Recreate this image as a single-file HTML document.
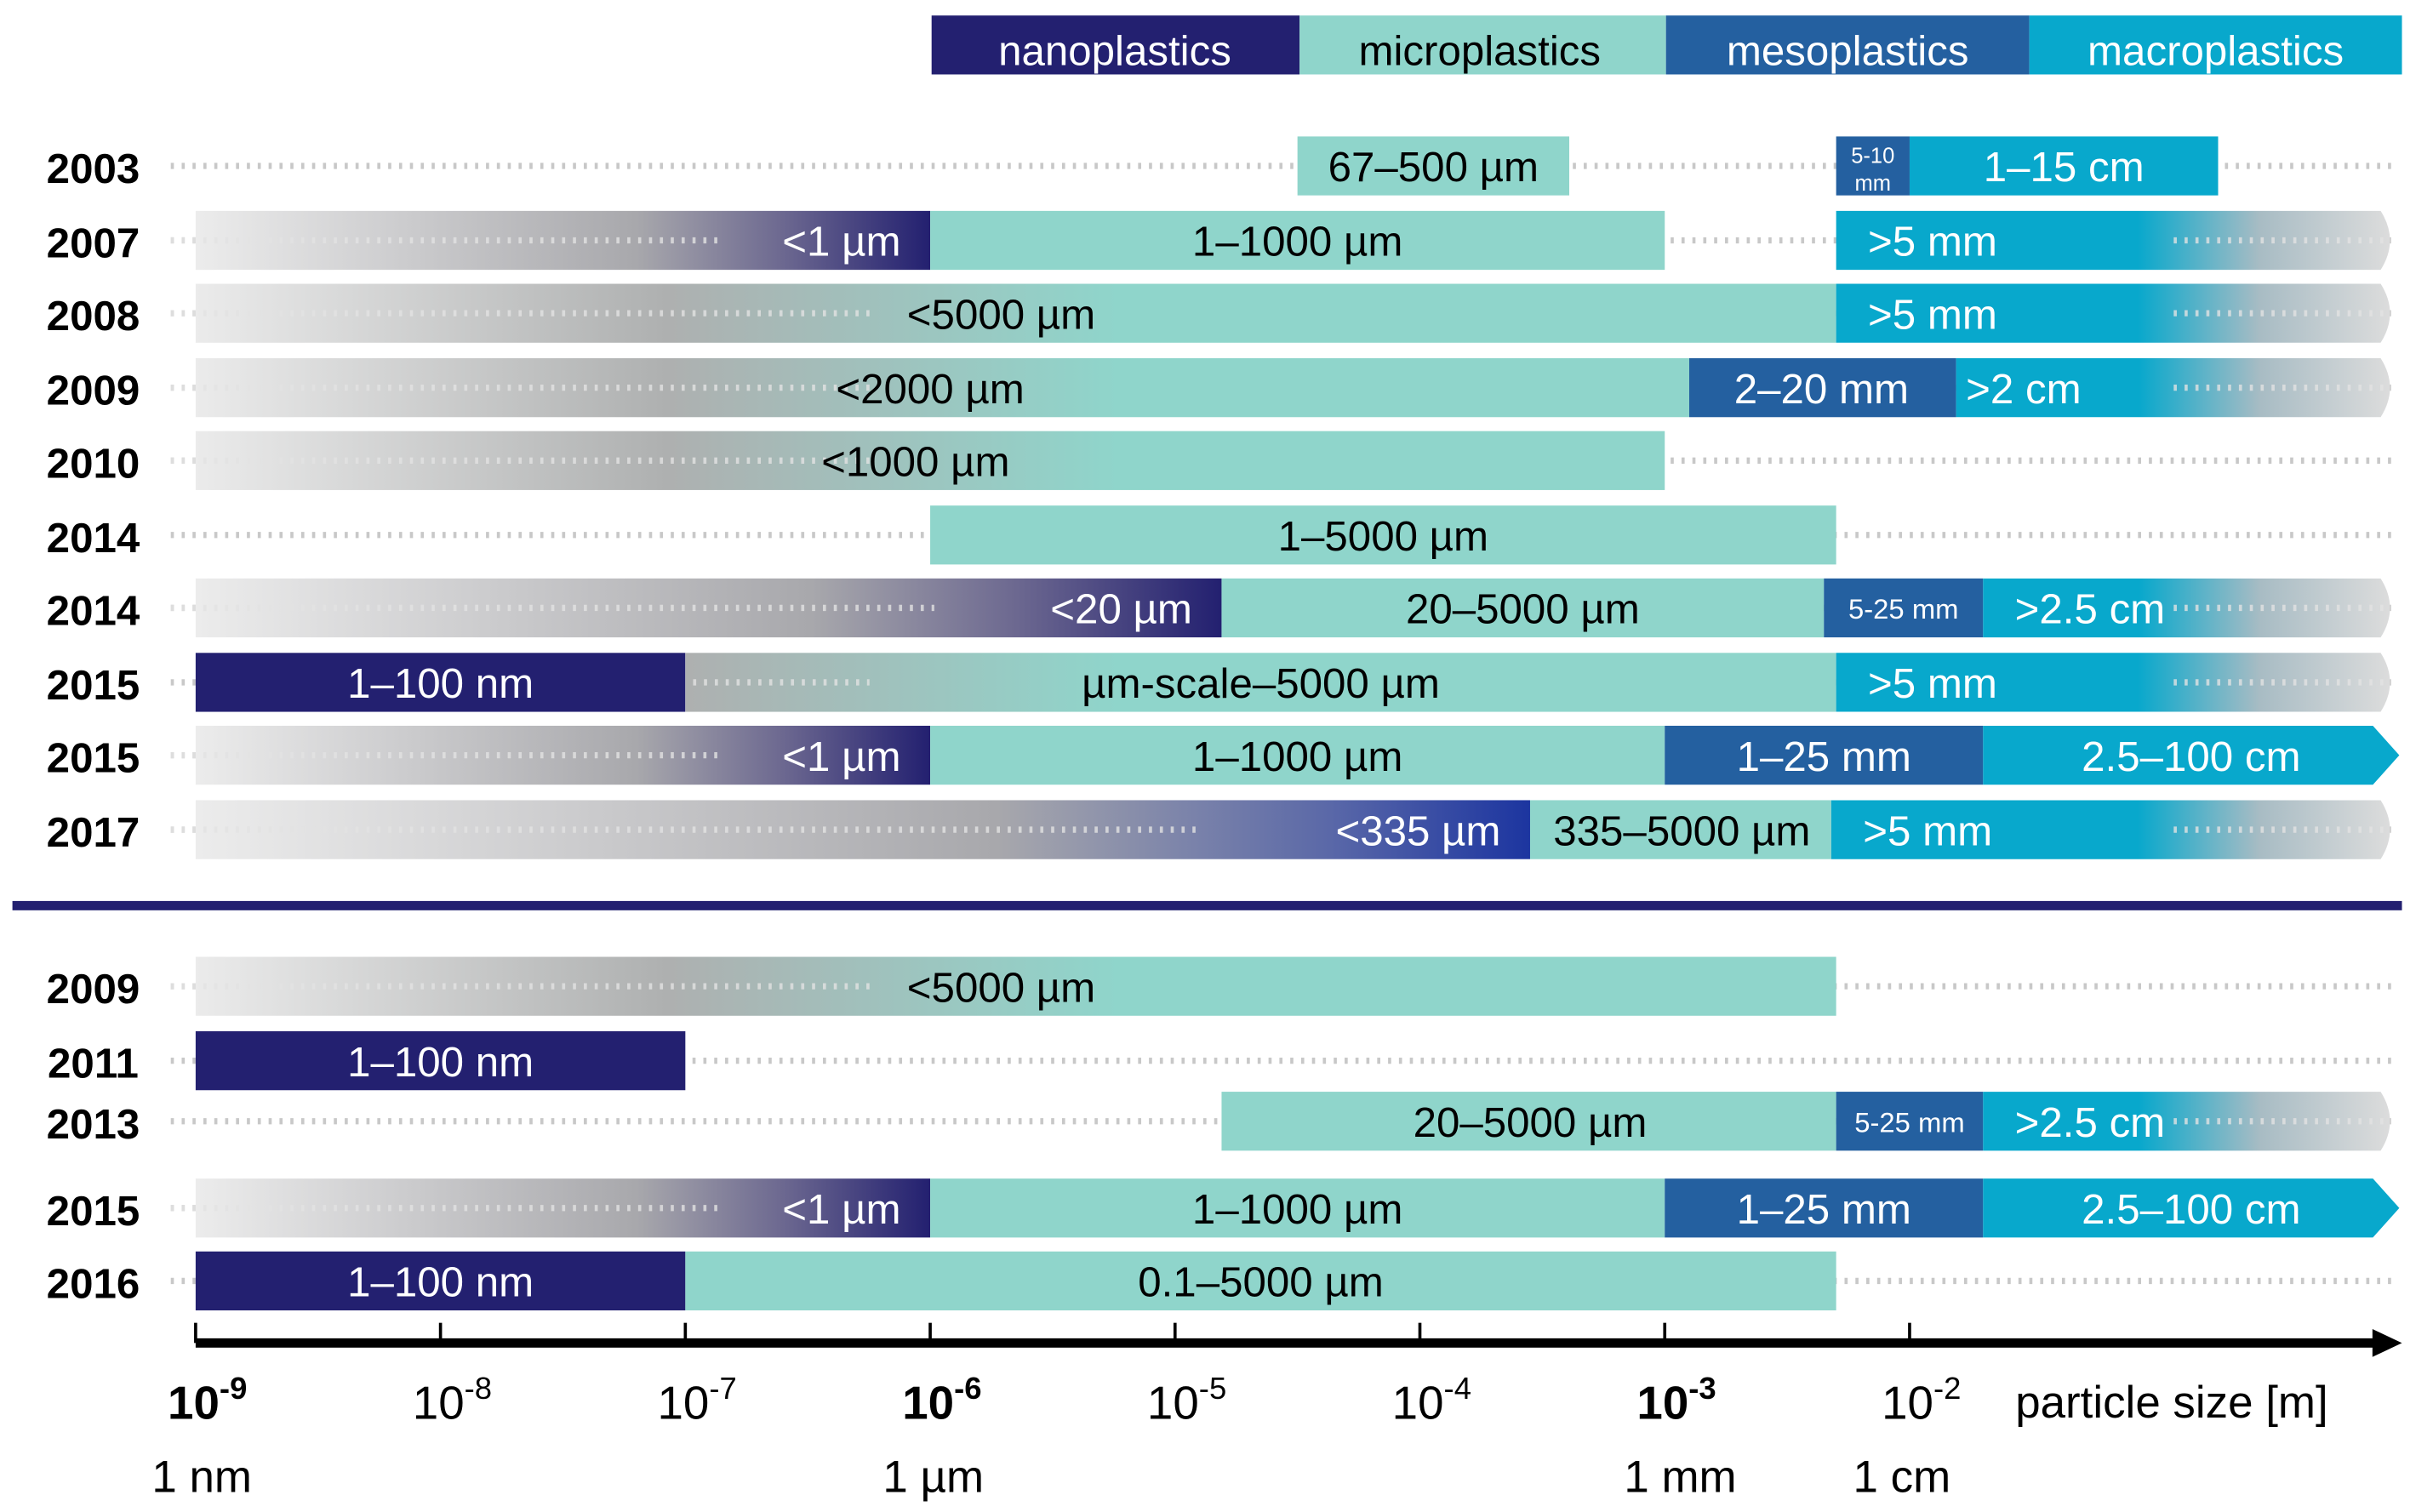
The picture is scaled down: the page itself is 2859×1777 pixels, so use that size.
<!DOCTYPE html>
<html><head><meta charset="utf-8"><style>
html,body{margin:0;padding:0;background:#fff;}
svg{display:block;font-family:"Liberation Sans",Arial,sans-serif;}
</style></head><body>
<svg id="chart" width="2859" height="1777" viewBox="0 0 1567 975" preserveAspectRatio="none" xmlns="http://www.w3.org/2000/svg">
<defs id="defs"></defs>
<g id="legend">
 <rect x="600" y="10" width="237" height="38" fill="#232070"/>
 <rect x="837" y="10" width="236" height="38" fill="#8fd5cb"/>
 <rect x="1073" y="10" width="234" height="38" fill="#2460a0"/>
 <rect x="1307" y="10" width="240" height="38" fill="#08a8cc"/>
 <text x="718" y="42" font-size="27" fill="#fff" text-anchor="middle">nanoplastics</text>
 <text x="953" y="42" font-size="27" fill="#000" text-anchor="middle">microplastics</text>
 <text x="1190" y="42" font-size="27" fill="#fff" text-anchor="middle">mesoplastics</text>
 <text x="1427" y="42" font-size="27" fill="#fff" text-anchor="middle">macroplastics</text>
</g>
<g id="rows"></g>
<rect x="8" y="581" width="1539" height="6" fill="#232070"/>
<g id="axis"></g>
</svg>
<script>
// data
const years = ["2003","2007","2008","2009","2010","2014","2014","2015","2015","2017","2009","2011","2013","2015","2016"];
const rowY = [107,155,202,250,297,345,392,440,487,535,636,684,723,779,826];
// segments per row: [type, fromExp, toExp, label, labelExp, anchor]
const segments = [
 [["micro",-4.50,-3.39,"67–500 µm",-3.945,"middle"],["meso",-2.30,-2.0,"",0,""],["macro",-2.0,-0.74,"1–15 cm",-1.37,"middle"]],
 [["nanoFade",-9,-6,"<1 µm",-6.12,"end"],["micro",-6,-3,"1–1000 µm",-4.5,"middle"],["macroFade",-2.30,0,">5 mm",-2.17,"start"]],
 [["microFade",-9,-2.30,"<5000 µm",-5.71,"middle"],["macroFade",-2.30,0,">5 mm",-2.17,"start"]],
 [["microFade",-9,-2.90,"<2000 µm",-6.0,"middle"],["meso",-2.90,-1.81,"2–20 mm",-2.36,"middle"],["macroFade",-1.81,0,">2 cm",-1.77,"start"]],
 [["microFade",-9,-3,"<1000 µm",-6.06,"middle"]],
 [["micro",-6,-2.30,"1–5000 µm",-4.15,"middle"]],
 [["nanoFade",-9,-4.81,"<20 µm",-4.93,"end"],["micro",-4.81,-2.35,"20–5000 µm",-3.58,"middle"],["meso",-2.35,-1.70,"",0,""],["macroFade",-1.70,0,">2.5 cm",-1.57,"start"]],
 [["nano",-9,-7,"1–100 nm",-8.0,"middle"],["microFade",-7,-2.30,"µm-scale–5000 µm",-4.65,"middle"],["macroFade",-2.30,0,">5 mm",-2.17,"start"]],
 [["nanoFade",-9,-6,"<1 µm",-6.12,"end"],["micro",-6,-3,"1–1000 µm",-4.5,"middle"],["meso",-3,-1.70,"1–25 mm",-2.35,"middle"],["macroArrow",-1.70,0,"2.5–100 cm",-0.85,"middle"]],
 [["nano2Fade",-9,-3.55,"<335 µm",-3.67,"end"],["micro",-3.55,-2.32,"335–5000 µm",-2.93,"middle"],["macroFade",-2.32,0,">5 mm",-2.19,"start"]],
 [["microFade",-9,-2.30,"<5000 µm",-5.71,"middle"]],
 [["nano",-9,-7,"1–100 nm",-8.0,"middle"]],
 [["micro",-4.81,-2.30,"20–5000 µm",-3.55,"middle"],["meso",-2.30,-1.70,"",0,""],["macroFade",-1.70,0,">2.5 cm",-1.57,"start"]],
 [["nanoFade",-9,-6,"<1 µm",-6.12,"end"],["micro",-6,-3,"1–1000 µm",-4.5,"middle"],["meso",-3,-1.70,"1–25 mm",-2.35,"middle"],["macroArrow",-1.70,0,"2.5–100 cm",-0.85,"middle"]],
 [["nano",-9,-7,"1–100 nm",-8.0,"middle"],["micro",-7,-2.30,"0.1–5000 µm",-4.65,"middle"]]
];
const tickExps = [-9,-8,-7,-6,-5,-4,-3,-2];
const tickBold = [true,false,false,true,false,false,true,false];
const unitLabels = ["1 nm","1 µm","1 mm","1 cm"];
const unitExps = [-9,-6,-3,-2];

const NS="http://www.w3.org/2000/svg";
const X0=126, DEC=157.7;
function xs(e){return X0+(e+9)*DEC;}
const H=38;
const col={nano:"#232070",micro:"#8fd5cb",meso:"#2460a0",macro:"#08a8cc",nano2:"#1c35a0"};
const defs=document.getElementById('defs');
let gid=0;
function grad(stops){
 const g=document.createElementNS(NS,'linearGradient');const id='g'+(gid++);
 g.setAttribute('id',id);
 stops.forEach(s=>{const st=document.createElementNS(NS,'stop');st.setAttribute('offset',s[0]);st.setAttribute('stop-color',s[1]);g.appendChild(st);});
 defs.appendChild(g);return 'url(#'+id+')';
}
function mk(tag,attrs,parent){const e=document.createElementNS(NS,tag);for(const k in attrs)e.setAttribute(k,attrs[k]);parent.appendChild(e);return e;}
const rows=document.getElementById('rows');
years.forEach((yr,i)=>{
 const y=rowY[i];
 const g=mk('g',{},rows);
 
 
 const dl=mk('line',{x1:110,x2:1540,y1:y,y2:y,stroke:'#c8c8c8','stroke-width':4,'stroke-dasharray':'2 5'},g);
 
 
 const t=mk('text',{x:60,y:y+11,'font-size':27,'font-weight':'bold','text-anchor':'middle',fill:'#000'},g);
 t.textContent=yr;
 
 
 const overlays=[];
 segments[i].forEach(s=>{
  const [type,a,b,label,le,anc]=s;
  const x1=xs(a),x2=xs(b);let fill,dark=false;
  if(type==='nano'){fill=col.nano;dark=true;}
  else if(type==='micro'){fill=col.micro;}
  else if(type==='meso'){fill=col.meso;dark=true;}
  else if(type==='macro'||type==='macroArrow'){fill=col.macro;dark=true;}
  else if(type==='nanoFade'){fill=grad([[0,'#ececec'],[0.6,'#a8a8ac'],[0.8,'#6c6890'],[1,col.nano]]);dark=true;overlays.push([110,x1+(x2-x1)*0.72]);}
  else if(type==='nano2Fade'){fill=grad([[0,'#ececec'],[0.6,'#a8a8ac'],[0.85,'#5a68a8'],[1,col.nano2]]);dark=true;overlays.push([110,x1+(x2-x1)*0.75]);}
  else if(type==='microFade'){const w=x2-x1;const p1=Math.min(0.95,(430-x1)/w),p2=Math.min(1,(720-x1)/w);fill=grad([[0,'#ebebeb'],[Math.max(0,p1),'#aeb0b0'],[p2,col.micro],[1,col.micro]]);overlays.push([x1<200?110:x1+5,Math.max(x1+40,560)]);}
  else if(type==='macroFade'){const w=x2-x1;fill=grad([[0,col.macro],[Math.max(0,(1380-x1)/w),col.macro],[Math.max(0,(1460-x1)/w),'#a8bcc4'],[1,'#dcdcdc']]);dark=true;overlays.push([1400,1540]);}
  let r;
  if(type==='macroArrow'){
   r=mk('polygon',{points:`${x1},${y-H/2} ${x2-17},${y-H/2} ${x2},${y} ${x2-17},${y+H/2} ${x1},${y+H/2}`,fill:fill},g);
  }else if(type==='macroFade'){
   r=mk('path',{d:`M${x1},${y-H/2} H${x2-12} Q${x2},${y} ${x2-12},${y+H/2} H${x1} Z`,fill:fill},g);
  }else{
   r=mk('rect',{x:x1,y:y-H/2,width:x2-x1,height:H,fill:fill},g);
  }
  
  
 });
 overlays.forEach(o=>{
  const od=mk('line',{x1:o[0],x2:o[1],y1:y,y2:y,stroke:'#e2e2e2','stroke-width':4,'stroke-dasharray':'2 5','stroke-opacity':0.8},g);
  
  
 });
 segments[i].forEach(s=>{
  const [type,a,b,label,le,anc]=s;
  const x1=xs(a),x2=xs(b);
  const dark=!(type==='micro'||type==='microFade');
  if(label){
   const tt=mk('text',{x:xs(le),y:y+10,'font-size':27,'text-anchor':anc,fill:dark?'#fff':'#000'},g);
   tt.textContent=label;
   
   
  }
  if(type==='meso'&&!label){
   const cx=(x1+x2)/2;
   if(x2-x1<60){
    const a1=mk('text',{x:cx,y:y-2,'font-size':14,'text-anchor':'middle',fill:'#fff'},g);a1.textContent='5-10';
    
    
    const a2=mk('text',{x:cx,y:y+16,'font-size':14,'text-anchor':'middle',fill:'#fff'},g);a2.textContent='mm';
    
    
   }else{
    const a1=mk('text',{x:cx,y:y+7,'font-size':18,'text-anchor':'middle',fill:'#fff'},g);a1.textContent='5-25  mm';
    
    
   }
  }
 });
});
// axis
const ax=document.getElementById('axis');
mk('rect',{x:126,y:863,width:1405,height:6,fill:'#000'},ax);
mk('polygon',{points:'1528,857 1547,866 1528,875',fill:'#000'},ax);
tickExps.forEach((e,i)=>{
 const x=xs(e);
 const tk=mk('line',{x1:x,x2:x,y1:853,y2:866,stroke:'#000','stroke-width':2},ax);
 
 
 const t=mk('text',{x:x-18,y:915,'font-size':30,'font-weight':tickBold[i]?'bold':'normal',fill:'#000'},ax);
 
 
 t.textContent='10';
 const sp=document.createElementNS(NS,'tspan');sp.setAttribute('dy','-13');sp.setAttribute('font-size','20');sp.textContent=String(e);t.appendChild(sp);
});
unitExps.forEach((e,i)=>{
 const t=mk('text',{x:xs(e)+(i==0?4:(i==2?10:(i==3?-5:2))),y:962,'font-size':29,'text-anchor':'middle',fill:'#000'},ax);
 t.textContent=unitLabels[i];
 
 
});
const at=mk('text',{x:1298,y:914,'font-size':29,fill:'#000'},ax);
at.textContent='particle size [m]';


</script>
</body></html>
